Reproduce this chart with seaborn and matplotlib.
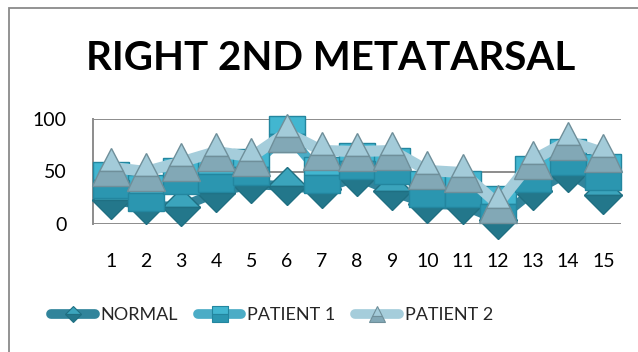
import matplotlib
matplotlib.use("Agg")
import matplotlib.pyplot as plt
from matplotlib.lines import Line2D
from matplotlib.patches import Rectangle
import seaborn as sns
import pandas as pd

# Measurements per position along the right 2nd metatarsal
positions = list(range(1, 16))
normal = [23, 18, 16, 30, 38, 36, 33, 45, 31, 19, 18, 4, 31, 49, 28]
patient1 = [42, 30, 46, 48, 54, 86, 47, 60, 55, 33, 33, 19, 48, 64, 50]
patient2 = [54, 50, 59, 69, 64, 87, 70, 69, 70, 51, 49, 19, 61, 79, 68]
series_names = ["NORMAL", "PATIENT 1", "PATIENT 2"]
y_ticks = [0, 50, 100]

sns.set_theme(style="white")
plt.rcParams["font.family"] = ["Lato", "DejaVu Sans"]

W, H, DPI = 638, 352, 100
fig = plt.figure(figsize=(W / DPI, H / DPI), dpi=DPI)
fig.patch.set_facecolor("white")

# chart frame (left and top edges)
fig.add_artist(Rectangle((8.5 / W, -0.1), 1.2, (H - 7.5) / H + 0.1,
                         transform=fig.transFigure, fill=False,
                         edgecolor="#8a8a8a", lw=1.3))

ax = fig.add_axes([93 / W, 1 - 224 / H, (621 - 93) / W, (224 - 119) / H])
ax.set_facecolor("none")

styles = [
    dict(color="#31849b", marker="D", ms=19, lms=8, mfc="#3ba4bc",
         mfcalt="#23778b", mec="#1f6f82", lw=7),
    dict(color="#4bacc6", marker="s", ms=26, lms=11, mfc="#42b6d0",
         mfcalt="#2b96b0", mec="#23869f", lw=7),
    dict(color="#a5cddb", marker="^", ms=28, lms=12, mfc="#a3cbd9",
         mfcalt="#82a8b6", mec="#6f8f9a", lw=8),
]

df = pd.DataFrame({"pos": positions, "NORMAL": normal,
                   "PATIENT 1": patient1, "PATIENT 2": patient2})

for i, (name, st) in enumerate(zip(series_names, styles)):
    sns.lineplot(data=df, x="pos", y=name, ax=ax, color=st["color"],
                 lw=st["lw"], marker=st["marker"], markersize=st["ms"],
                 markerfacecolor=st["mfc"], markerfacecoloralt=st["mfcalt"],
                 fillstyle="top", markeredgecolor=st["mec"],
                 markeredgewidth=1.0, solid_capstyle="round",
                 solid_joinstyle="round", clip_on=False, zorder=3 + i)

ax.set_xlim(0.5, 15.5)
ax.set_ylim(0, 100)
ax.set_xticks(positions)
ax.set_xticklabels([str(p) for p in positions])
ax.set_yticks(y_ticks)
ax.set_yticklabels([str(v) for v in y_ticks])
ax.set_xlabel("")
ax.set_ylabel("")
for yv in y_ticks:
    ax.axhline(yv, color="#8c8c8c", lw=1.4, zorder=1)
for s in ["top", "right", "bottom"]:
    ax.spines[s].set_visible(False)
ax.spines["left"].set_color("#8c8c8c")
ax.spines["left"].set_linewidth(1.4)
ax.xaxis.set_tick_params(length=0, pad=21, labelsize=14, labelcolor="black")
ax.yaxis.set_tick_params(length=0, pad=19, labelsize=14, labelcolor="black")

fig.text(331 / W, 1 - 59 / H, "RIGHT 2ND METATARSAL", ha="center",
         va="center", fontsize=29, fontweight="bold", color="black")

handles = []
for st in styles:
    handles.append(Line2D([0], [0], color=st["color"], lw=7,
                          solid_capstyle="round", marker=st["marker"],
                          markersize=st["lms"],
                          markerfacecolor=st["mfc"],
                          markerfacecoloralt=st["mfcalt"], fillstyle="top",
                          markeredgecolor=st["mec"], markeredgewidth=0.8))
fig.legend(handles, series_names, loc="center", ncol=3,
           bbox_to_anchor=(272 / W, 1 - 315 / H), frameon=False,
           fontsize=13, handlelength=2.4, handletextpad=0.33,
           columnspacing=1.1)

fig.savefig("out.png", dpi=DPI, facecolor="white")
